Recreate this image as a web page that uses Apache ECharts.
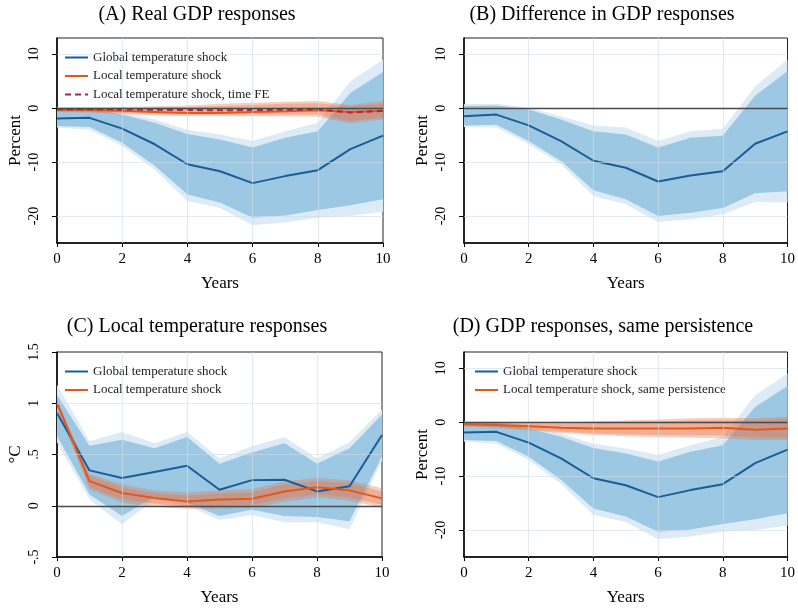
<!DOCTYPE html>
<html>
<head>
<meta charset="utf-8">
<script src="https://cdn.jsdelivr.net/npm/echarts@6/dist/echarts.min.js"></script>
<style>html,body{margin:0;padding:0;background:#fff}#c{width:798px;height:608px}</style>
</head>
<body>
<div id="c"></div>
<script>
const years = [0,1,2,3,4,5,6,7,8,9,10];
const gdpTicks = [-20,-10,0,10];
const tempTicks = [-0.5,0,0.5,1,1.5];
const xTicks = [0,2,4,6,8,10];

// Panel A & D : global temperature shock on GDP
const gdpGlobal      = [-1.9,-1.8,-3.8,-6.7,-10.4,-11.7,-13.9,-12.6,-11.5,-7.6,-5.1];
const gdpGlobalHi90  = [-0.1,-0.1,-1.2,-2.7,-4.8,-5.8,-7.3,-5.5,-4.3,2.8,6.7];
const gdpGlobalLo90  = [-3.3,-3.5,-6.4,-10.7,-16.0,-17.5,-20.3,-19.9,-18.9,-18.0,-16.9];
const gdpGlobalHi95  = [0.1,0.1,-0.7,-2.1,-4.0,-4.9,-6.1,-4.3,-2.7,5.0,9.0];
const gdpGlobalLo95  = [-3.6,-4.0,-7.0,-11.4,-17.2,-18.5,-21.7,-21.2,-20.3,-20.0,-19.2];

// Panel A : local temperature shock on GDP
const gdpLocal       = [-0.3,-0.35,-0.5,-0.7,-0.9,-0.9,-0.7,-0.6,-0.4,-0.7,-0.5];
const gdpLocalHi90   = [0.0,0.0,0.0,0.1,0.2,0.4,0.6,0.8,0.9,0.3,0.8];
const gdpLocalLo90   = [-0.6,-0.7,-0.9,-1.1,-1.2,-1.2,-1.2,-1.2,-1.2,-2.4,-1.8];
const gdpLocalHi95   = [0.1,0.15,0.2,0.35,0.5,0.8,1.0,1.2,1.3,0.6,1.3];
const gdpLocalLo95   = [-0.7,-0.8,-1.1,-1.3,-1.5,-1.5,-1.5,-1.5,-1.6,-2.8,-2.1];
const gdpLocalFE     = [-0.2,-0.2,-0.25,-0.3,-0.35,-0.4,-0.35,-0.3,-0.25,-0.8,-0.5];

// Panel B : difference
const gdpDiff        = [-1.5,-1.2,-3.2,-6.1,-9.75,-11.05,-13.6,-12.5,-11.7,-6.6,-4.3];
const gdpDiffHi90    = [0.4,0.5,-0.25,-2.1,-4.3,-4.9,-7.3,-5.5,-5.1,2.3,6.9];
const gdpDiffLo90    = [-3.2,-3.1,-6.1,-9.8,-15.2,-16.9,-20.0,-19.4,-18.5,-15.8,-15.4];
const gdpDiffHi95    = [0.7,0.8,0.06,-1.5,-3.2,-3.6,-6.1,-4.3,-3.8,4.0,9.0];
const gdpDiffLo95    = [-3.5,-3.6,-6.7,-10.4,-16.3,-17.8,-21.1,-20.6,-19.7,-17.4,-17.5];

// Panel C : local temperature responses
const tempGlobal     = [0.905,0.345,0.27,0.33,0.39,0.156,0.25,0.254,0.14,0.19,0.69];
const tempGlobalHi90 = [1.08,0.586,0.645,0.56,0.67,0.41,0.52,0.61,0.41,0.56,0.89];
const tempGlobalLo90 = [0.68,0.11,-0.10,0.09,0.03,-0.10,-0.04,-0.10,-0.11,-0.15,0.48];
const tempGlobalHi95 = [1.18,0.63,0.72,0.61,0.72,0.46,0.58,0.67,0.46,0.62,0.94];
const tempGlobalLo95 = [0.62,0.06,-0.18,0.06,0.0,-0.14,-0.09,-0.16,-0.16,-0.23,0.44];
const tempLocal      = [1.0,0.24,0.124,0.075,0.042,0.06,0.068,0.14,0.18,0.15,0.072];
const tempLocalHi90  = [1.02,0.29,0.18,0.12,0.10,0.12,0.13,0.21,0.24,0.22,0.14];
const tempLocalLo90  = [0.98,0.18,0.06,0.02,-0.01,0.00,0.01,0.07,0.11,0.08,0.01];
const tempLocalHi95  = [1.04,0.31,0.21,0.15,0.13,0.15,0.16,0.24,0.27,0.25,0.17];
const tempLocalLo95  = [0.96,0.16,0.03,-0.01,-0.03,-0.03,-0.02,0.04,0.08,0.05,-0.02];

// Panel D : local shock, same persistence
const gdpSame        = [-0.4,-0.55,-0.75,-1.05,-1.2,-1.2,-1.2,-1.2,-1.05,-1.4,-1.2];
const gdpSameHi90    = [-0.1,-0.15,-0.3,-0.3,-0.2,0.0,0.1,0.3,0.4,0.3,0.6];
const gdpSameLo90    = [-0.7,-0.95,-1.3,-1.8,-2.1,-2.3,-2.4,-2.5,-2.5,-2.8,-2.9];
const gdpSameHi95    = [0.0,0.0,-0.1,-0.05,0.1,0.3,0.5,0.7,0.8,0.7,1.0];
const gdpSameLo95    = [-0.8,-1.1,-1.5,-2.0,-2.4,-2.6,-2.8,-2.9,-3.0,-3.3,-3.3];

const titles = ['(A) Real GDP responses','(B) Difference in GDP responses','(C) Local temperature responses','(D) GDP responses, same persistence'];
const nGlobal = 'Global temperature shock';
const nLocal = 'Local temperature shock';
const nLocalFE = 'Local temperature shock, time FE';
const nSame = 'Local temperature shock, same persistence';

const FONT = 'Liberation Serif';
const BLUE = '#1b5c97', ORANGE = '#e4571b', CRIMSON = '#b8203f';
const BLUE_IN = '#9cc8e4', BLUE_OUT = '#dcebf6';
const OR_BAND = 'rgba(230,113,66,0.34)';
const GRIDC = 'rgba(205,221,231,0.6)';

const grids = [
  {left:57, top:38, width:326, height:205},
  {left:464, top:38, width:327, height:205},
  {left:57, top:352, width:325, height:205},
  {left:464, top:352, width:327, height:205}
];

function fmtTemp(v){
  if (v === 0) return '0';
  let s = String(v);
  s = s.replace(/^0\./,'.').replace(/^-0\./,'-.');
  return s;
}

function xAxis(i){
  return {gridIndex:i, type:'value', min:0, max:10, interval:2,
    axisLine:{show:true, onZero:false, lineStyle:{color:'#000', width:1.5}},
    axisTick:{show:true, length:4, lineStyle:{color:'#000'}},
    axisLabel:{fontFamily:FONT, fontSize:15, color:'#000', margin:9},
    splitLine:{show:false},
    name:'Years', nameLocation:'middle', nameGap:32,
    nameTextStyle:{fontFamily:FONT, fontSize:17, color:'#000'}};
}
function yAxisGdp(i){
  return {gridIndex:i, type:'value', min:-25, max:13,
    axisLine:{show:true, onZero:false, lineStyle:{color:'#000', width:1.5}},
    axisTick:{show:true, length:5, customValues:gdpTicks, lineStyle:{color:'#000'}},
    axisLabel:{fontFamily:FONT, fontSize:14, color:'#000', rotate:90, margin:16, customValues:gdpTicks},
    splitLine:{show:false},
    name:'Percent', nameLocation:'middle', nameGap:33,
    nameTextStyle:{fontFamily:FONT, fontSize:17, color:'#000'}};
}
function yAxisTemp(i){
  return {gridIndex:i, type:'value', min:-0.5, max:1.5, interval:0.5,
    axisLine:{show:true, onZero:false, lineStyle:{color:'#000', width:1.5}},
    axisTick:{show:true, length:5, lineStyle:{color:'#000'}},
    axisLabel:{fontFamily:FONT, fontSize:14, color:'#000', rotate:90, margin:16, formatter:fmtTemp},
    splitLine:{show:false},
    name:'°C', nameLocation:'middle', nameGap:33,
    nameTextStyle:{fontFamily:FONT, fontSize:17, color:'#000'}};
}

function band(gi, lo, hi, color){
  return {type:'custom', xAxisIndex:gi, yAxisIndex:gi, clip:true, silent:true, z:1,
    data:[[0,0]], encode:{x:0, y:1},
    renderItem:function(params, api){
      const pts = [];
      for (let i=0;i<years.length;i++) pts.push(api.coord([years[i], hi[i]]));
      for (let i=years.length-1;i>=0;i--) pts.push(api.coord([years[i], lo[i]]));
      return {type:'polygon', shape:{points:pts}, style:{fill:color, stroke:null}};
    }};
}

function gridMarks(yVals){
  const d = [];
  [2,4,6,8].forEach(v=>d.push({xAxis:v, lineStyle:{color:GRIDC, width:1.2, type:'solid'}}));
  yVals.forEach(v=>d.push({yAxis:v, lineStyle:{color:GRIDC, width:1.2, type:'solid'}}));
  d.push({yAxis:0, lineStyle:{color:'#4a4a4a', width:1.4, type:'solid'}});
  return {silent:true, symbol:['none','none'], label:{show:false}, animation:false, zlevel:1, z:2, data:d};
}

function line(gi, name, vals, color, dashed, marks){
  const s = {type:'line', name:name, xAxisIndex:gi, yAxisIndex:gi,
    data: years.map((x,i)=>[x, vals[i]]),
    symbol:'none', showSymbol:false,
    lineStyle:{color:color, width:2, type: dashed ? [6,4] : 'solid'},
    itemStyle:{color:color}, z:4};
  if (marks) s.markLine = marks;
  return s;
}

const series = [
  // A
  band(0, gdpGlobalLo95, gdpGlobalHi95, BLUE_OUT),
  band(0, gdpGlobalLo90, gdpGlobalHi90, BLUE_IN),
  band(0, gdpLocalLo95, gdpLocalHi95, OR_BAND),
  band(0, gdpLocalLo90, gdpLocalHi90, OR_BAND),
  line(0, nGlobal, gdpGlobal, BLUE, false, gridMarks([-20,-10,10])),
  line(0, nLocal, gdpLocal, ORANGE, false),
  line(0, nLocalFE, gdpLocalFE, CRIMSON, true),
  // B
  band(1, gdpDiffLo95, gdpDiffHi95, BLUE_OUT),
  band(1, gdpDiffLo90, gdpDiffHi90, BLUE_IN),
  line(1, 'Difference', gdpDiff, BLUE, false, gridMarks([-20,-10,10])),
  // C
  band(2, tempGlobalLo95, tempGlobalHi95, BLUE_OUT),
  band(2, tempGlobalLo90, tempGlobalHi90, BLUE_IN),
  band(2, tempLocalLo95, tempLocalHi95, OR_BAND),
  band(2, tempLocalLo90, tempLocalHi90, OR_BAND),
  line(2, nGlobal, tempGlobal, BLUE, false, gridMarks([0.5,1])),
  line(2, nLocal, tempLocal, ORANGE, false),
  // D
  band(3, gdpGlobalLo95, gdpGlobalHi95, BLUE_OUT),
  band(3, gdpGlobalLo90, gdpGlobalHi90, BLUE_IN),
  band(3, gdpSameLo95, gdpSameHi95, OR_BAND),
  band(3, gdpSameLo90, gdpSameHi90, OR_BAND),
  line(3, nGlobal, gdpGlobal, BLUE, false, gridMarks([-20,-10,10])),
  line(3, nSame, gdpSame, ORANGE, false)
];

function legend(left, top, names){
  return {left:left, top:top, orient:'vertical', data:names, itemWidth:23, itemHeight:12, itemGap:5.5,
    selectedMode:false, backgroundColor:'transparent', itemStyle:{opacity:0},
    textStyle:{fontFamily:FONT, fontSize:13, color:'#222', padding:[0,0,0,0]}, padding:0};
}

const titlePos = [[197,15],[602,15],[197,327],[603,327]];
const graphic = titles.map((t,i)=>({type:'text', x:titlePos[i][0], y:titlePos[i][1],
  style:{text:t, fill:'#000', font:'20px "'+FONT+'"', textAlign:'center', textVerticalAlign:'middle'}}));

const option = {
  animation:false,
  backgroundColor:'#fff',
  grid: grids.map(g=>Object.assign({show:true, borderColor:'#222', borderWidth:1, backgroundColor:'transparent'}, g)),
  xAxis: [xAxis(0), xAxis(1), xAxis(2), xAxis(3)],
  yAxis: [yAxisGdp(0), yAxisGdp(1), yAxisTemp(2), yAxisGdp(3)],
  legend: [
    legend(64, 51, [nGlobal, nLocal, nLocalFE]),
    legend(64, 365, [nGlobal, nLocal]),
    legend(474, 365, [nGlobal, nSame])
  ],
  graphic: graphic,
  series: series
};

const chart = echarts.init(document.getElementById('c'), null, {renderer:'canvas'});
chart.setOption(option);
</script>
</body>
</html>
